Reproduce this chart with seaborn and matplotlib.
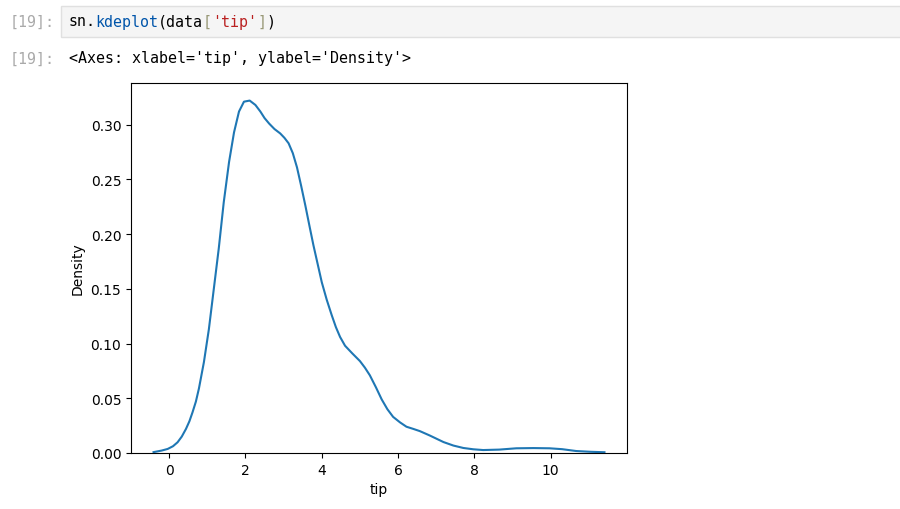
import matplotlib
matplotlib.use("Agg")
import matplotlib.pyplot as plt
import matplotlib.patches as patches
import seaborn as sns

tip = [-0.41, -0.2, -0.04, 0.1, 0.22, 0.33, 0.44, 0.53, 0.61, 0.70, 0.78, 0.91,
       1.04, 1.17, 1.30, 1.43, 1.57, 1.70, 1.83, 1.96, 2.11, 2.26, 2.39, 2.50,
       2.62, 2.76, 2.91, 3.02, 3.13, 3.24, 3.35, 3.46, 3.57, 3.68, 3.78, 3.89,
       4.00, 4.13, 4.26, 4.37, 4.48, 4.61, 4.80, 5.0, 5.13, 5.26, 5.42, 5.57,
       5.72, 5.87, 6.05, 6.22, 6.40, 6.57, 6.83, 7.19, 7.45, 7.71, 7.97, 8.23,
       8.65, 9.10, 9.55, 9.97, 10.30, 10.67, 11.05, 11.41]
density = [0.0008, 0.0022, 0.0037, 0.0062, 0.0098, 0.0150, 0.022, 0.029, 0.037,
           0.047, 0.059, 0.083, 0.113, 0.150, 0.187, 0.229, 0.266, 0.293, 0.312,
           0.321, 0.322, 0.318, 0.312, 0.306, 0.301, 0.296, 0.292, 0.288, 0.283,
           0.274, 0.261, 0.244, 0.226, 0.207, 0.190, 0.173, 0.156, 0.140, 0.126,
           0.115, 0.106, 0.098, 0.091, 0.084, 0.078, 0.071, 0.060, 0.049, 0.040,
           0.033, 0.028, 0.024, 0.022, 0.020, 0.016, 0.010, 0.0068, 0.0046,
           0.0034, 0.0027, 0.0031, 0.0043, 0.0045, 0.0043, 0.0035, 0.0018,
           0.0011, 0.0007]

# Texte de la cellule du notebook
prompt = "[19]:"
code_parts = [("sn.", "#000000"), ("kdeplot", "#0055aa"), ("(data", "#000000"),
              ("[", "#999977"), ("'tip'", "#ba2121"), ("]", "#999977"), (")", "#000000")]
output_text = "<Axes: xlabel='tip', ylabel='Density'>"

W, H = 900, 510
fig = plt.figure(figsize=(9, 5.1), dpi=100)
fig.patch.set_facecolor("white")

mono = "DejaVu Sans Mono"
fs = 10.8
char_w = 9.0

# cellule d'entrée
box = patches.Rectangle((61 / W, 1 - 38 / H), 850 / W, 31 / H, transform=fig.transFigure,
                        facecolor="#f5f5f5", edgecolor="#e0e0e0", linewidth=1)
fig.add_artist(box)
fig.text(10 / W, 1 - 22 / H, prompt, family=mono, fontsize=fs, color="#aaaaaa", va="center")
x = 68
for txt, col in code_parts:
    fig.text(x / W, 1 - 22 / H, txt, family=mono, fontsize=fs, color=col, va="center")
    x += char_w * len(txt)

# sortie
fig.text(10 / W, 1 - 59 / H, prompt, family=mono, fontsize=fs, color="#aaaaaa", va="center")
fig.text(69 / W, 1 - 59 / H, output_text, family=mono, fontsize=fs, color="#000000", va="center")

# le graphique
ax = fig.add_axes([131 / W, 1 - 454 / H, 496 / W, 370 / H])
sns.lineplot(x=tip, y=density, ax=ax, color="#1f77b4", linewidth=1.5, sort=False)
ax.set_ylim(bottom=0)
ax.set_xticks([0, 2, 4, 6, 8, 10])
ax.set_xlabel("tip")
ax.set_ylabel("Density")

fig.savefig("out.png", dpi=100)
